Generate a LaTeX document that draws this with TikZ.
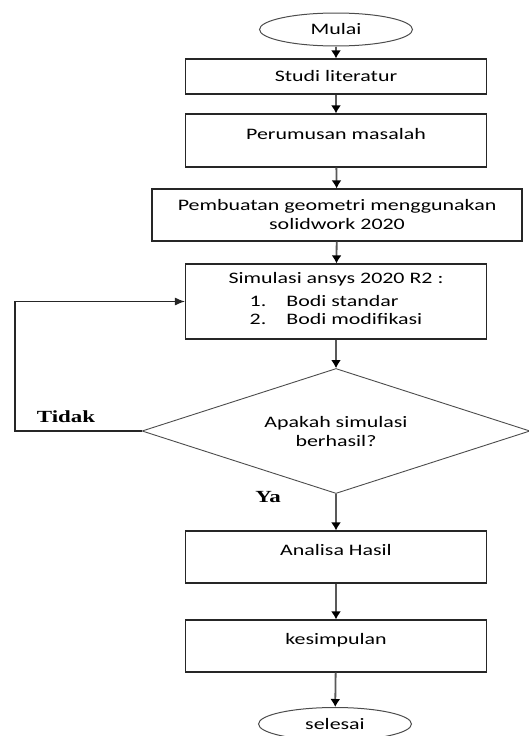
\documentclass[tikz,border=0pt]{standalone}
\usepackage{fontspec}
\setmainfont{Carlito}
\newfontfamily\boxfont[FakeStretch=1.37]{Carlito}
\newfontfamily\tagfont[FakeStretch=1.35]{Liberation Serif}
\usetikzlibrary{arrows.meta,%
                shapes.geometric}
\tikzstyle{stepbox}=[rectangle, draw=black!85, line width=1.2pt, minimum width=301pt, inner sep=0pt, font=\boxfont\fontsize{16}{19}\selectfont, align=center]
\tikzstyle{upper}=[text height=11pt, text depth=14pt]
\tikzstyle{terminal}=[ellipse, draw=black!70, line width=1pt, minimum width=153pt, minimum height=33pt, inner sep=0pt, font=\boxfont\fontsize{16}{19}\selectfont]
\tikzstyle{decision}=[diamond, draw=black!70, line width=0.9pt, minimum width=388pt, minimum height=125pt, aspect=3.1, inner sep=0pt, font=\boxfont\fontsize{16}{19}\selectfont, align=center]
\tikzstyle{answer}=[font=\tagfont\bfseries\fontsize{17}{19}\selectfont, inner sep=0pt]
\tikzstyle{flow}=[draw=black!65, line width=1.8pt, -{Latex[length=8pt,width=10pt,fill=black,color=black]}]
\tikzstyle{loopflow}=[draw=black!85, line width=1.1pt, -{Latex[length=10pt,width=8pt]}]

\begin{document}
\begin{tikzpicture}[x=1pt,y=-1pt]
  \useasboundingbox (0,0) rectangle (528,736);
  \node[terminal] (mulai) at (336,29.5) {Mulai};
  \node[stepbox, minimum height=35pt] (studi) at (336,76.5) {Studi literatur};
  \node[stepbox, upper, minimum height=53pt] (rumus) at (336,140.5) {Perumusan masalah};
  \node[stepbox, minimum width=370pt, minimum height=52pt] (geometri) at (337,215)
    {Pembuatan geometri menggunakan\\solidwork 2020};
  \node[stepbox, minimum height=75pt] (simulasi) at (336,301.5)
    {Simulasi ansys 2020 R2 :\\[6pt]
     \begin{tabular}{@{}l@{\hspace{20pt}}l@{}}1. & Bodi standar\\[-1pt] 2. & Bodi modifikasi\end{tabular}\hspace{18pt}};
  \node[decision] (cek) at (336,431) {Apakah simulasi\\berhasil?};
  \node[stepbox, upper, minimum height=52pt] (analisa) at (336,557) {Analisa Hasil};
  \node[stepbox, upper, minimum height=52pt] (simpul) at (336,646) {kesimpulan};
  \node[terminal] (selesai) at (335,724) {selesai};

  \node[answer] (tidak) at (66,417) {Tidak};
  \node[answer] (ya) at (268,497) {Ya};
  \coordinate (balik) at (15,431);

  \draw[flow] (mulai) -- (studi);
  \draw[flow] (studi) -- (rumus);
  \draw[flow] (rumus) -- (geometri);
  \draw[flow] (geometri) -- (simulasi);
  \draw[flow] (simulasi) -- (cek);
  \draw[flow] (cek) -- (analisa);
  \draw[flow] (analisa) -- (simpul);
  \draw[flow] (simpul) -- (selesai);
  \draw[loopflow] (cek.west) -- (balik) |- (simulasi.west);
\end{tikzpicture}
\end{document}
